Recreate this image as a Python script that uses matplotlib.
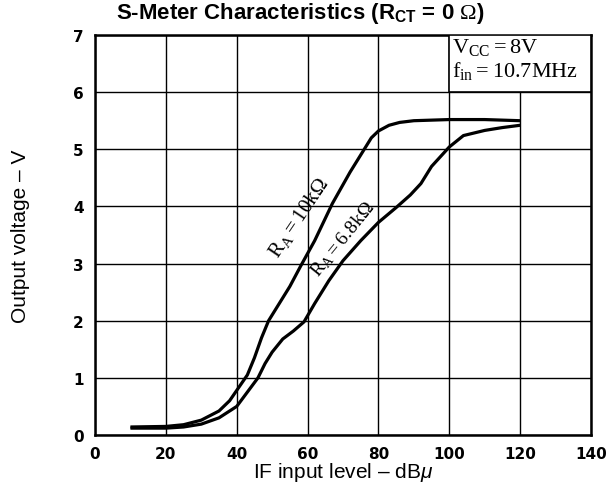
import matplotlib
matplotlib.use('Agg')
import matplotlib.pyplot as plt
from matplotlib.patches import Rectangle

plt.rcParams['mathtext.fontset'] = 'custom'
plt.rcParams['mathtext.rm'] = 'Liberation Serif'
plt.rcParams['mathtext.it'] = 'Liberation Sans:italic'
plt.rcParams['mathtext.bf'] = 'Liberation Sans:bold'
plt.rcParams['font.family'] = ['Liberation Sans', 'DejaVu Sans']

# S-meter curves
X_10K = [10, 20, 25, 30, 35, 38, 40, 43, 45, 47, 49, 52, 55, 58, 62, 67, 72,
         76, 78, 80, 83, 86, 90, 100, 110, 120]
Y_10K = [0.14, 0.15, 0.18, 0.26, 0.42, 0.6, 0.78, 1.05, 1.35, 1.7, 2.0, 2.3,
         2.6, 2.95, 3.4, 4.05, 4.6, 5.0, 5.2, 5.32, 5.42, 5.47, 5.5, 5.52,
         5.52, 5.5]

X_6K8 = [10, 20, 25, 30, 35, 38, 40, 43, 46, 48, 50, 53, 56, 59, 62, 66, 70,
         75, 80, 85, 89, 92, 95, 100, 104, 110, 115, 120]
Y_6K8 = [0.12, 0.12, 0.14, 0.19, 0.3, 0.42, 0.5, 0.75, 1.0, 1.25, 1.45, 1.68,
         1.82, 1.98, 2.3, 2.7, 3.05, 3.4, 3.72, 3.98, 4.2, 4.4, 4.7, 5.04,
         5.24, 5.33, 5.38, 5.42]

X_TICKS = [0, 20, 40, 60, 80, 100, 120, 140]
Y_TICKS = [0, 1, 2, 3, 4, 5, 6, 7]

fig = plt.figure(figsize=(6.07, 4.89), dpi=100)
ax = fig.add_axes([0.1565, 0.1084, 0.8171, 0.818])

ax.set_xlim(0, 140)
ax.set_ylim(0, 7)
ax.set_xticks(X_TICKS)
ax.set_yticks(Y_TICKS)
ax.grid(True, color='black', linewidth=1.0)
ax.set_axisbelow(True)
ax.tick_params(length=0, labelsize=11, pad=8)
for lab in ax.get_xticklabels() + ax.get_yticklabels():
    lab.set_fontweight('bold')
    lab.set_fontfamily('DejaVu Sans')
for sp in ax.spines.values():
    sp.set_linewidth(1.8)

ax.plot(X_10K, Y_10K, color='black', lw=2.3, solid_capstyle='butt')
ax.plot(X_6K8, Y_6K8, color='black', lw=2.3, solid_capstyle='butt')

ax.text(57.6, 3.82, r'$\mathrm{R_A = 10k\Omega}$', rotation=56, fontsize=15,
        ha='center', va='center', rotation_mode='anchor')
ax.text(69.9, 3.43, r'$\mathrm{R_A = 6.8k\Omega}$', rotation=51, fontsize=14,
        ha='center', va='center', rotation_mode='anchor')

# condition box in the top right corner
ax.add_patch(Rectangle((100, 6), 40, 1, facecolor='white', edgecolor='black',
                       lw=1.2, zorder=3))
ax.text(100.8, 6.8, r'$\mathrm{V_{CC} = 8V}$', fontsize=16, va='center',
        zorder=4)
ax.text(100.8, 6.38, r'$\mathrm{f_{in} = 10.7MHz}$', fontsize=16, va='center',
        zorder=4)

ax.set_xlabel(r'IF input level – dB$\mu$', fontsize=15, labelpad=-1)
ax.set_ylabel('Output voltage – V', fontsize=15, labelpad=31)
fig.text(0.494, 1 - 13 / 489,
         r'S-Meter Characteristics (R$_{\mathbf{CT}}$ = 0 $\Omega$)',
         fontsize=16, fontweight='bold', ha='center', va='center')

fig.savefig('out.png', dpi=100)
